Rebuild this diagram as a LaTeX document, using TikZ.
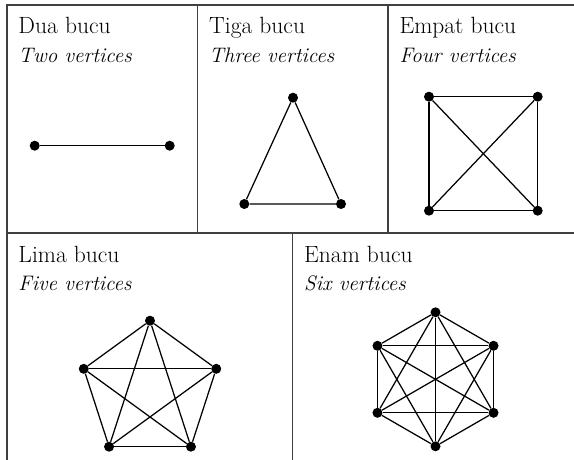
\documentclass[tikz,border=0pt]{standalone}
\usepackage{fontspec}
\begin{document}
\begin{tikzpicture}[x=1pt,y=-1pt,
  frame/.style={draw=black!75,line width=1.2pt},
  edge/.style={draw=black,line width=1.25pt},
  vtx/.style={circle,fill=black,inner sep=0pt,minimum size=10pt},
  ttl/.style={anchor=base west,inner sep=0pt,font=\fontsize{23.5}{28}\selectfont},
  sub/.style={anchor=base west,inner sep=0pt,font=\fontsize{21}{28}\selectfont\itshape}]
\useasboundingbox (0,0) rectangle (574,460);
% frame
\draw[frame] (7,460) -- (7,5) -- (574,5);
\draw[frame] (7,233) -- (574,233);
\draw[frame] (197.3,5) -- (197.3,233);
\draw[frame] (388,5) -- (388,233);
\draw[frame] (292.7,233) -- (292.7,460);
% texts
\node[ttl] (t1) at (18.3,34) {Dua bucu};
\node[sub] (s1) at (18.3,62.5) {Two vertices};
\node[ttl] (t2) at (209,34) {Tiga bucu};
\node[sub] (s2) at (209,62.5) {Three vertices};
\node[ttl] (t3) at (399.3,34) {Empat bucu};
\node[sub] (s3) at (399.3,62.5) {Four vertices};
\node[ttl] (t4) at (18.3,262.3) {Lima bucu};
\node[sub] (s4) at (18.3,290.7) {Five vertices};
\node[ttl] (t5) at (304,262.3) {Enam bucu};
\node[sub] (s5) at (304,290.7) {Six vertices};
% K2
\node[vtx] (a1) at (34.7,145.7) {};
\node[vtx] (a2) at (169.7,145.7) {};
\draw[edge] (a1) -- (a2);
% K3
\node[vtx] (b1) at (293,97.7) {};
\node[vtx] (b2) at (244.3,204) {};
\node[vtx] (b3) at (341,204) {};
\draw[edge] (b1) -- (b2) -- (b3) -- (b1);
% K4
\node[vtx] (c1) at (429,96.7) {};
\node[vtx] (c2) at (537.7,96.7) {};
\node[vtx] (c3) at (537.7,210.7) {};
\node[vtx] (c4) at (429,210.7) {};
\foreach \i/\j in {1/2,1/3,1/4,2/3,2/4,3/4} \draw[edge] (c\i) -- (c\j);
% K5
\foreach \k in {1,...,5}
  \node[vtx] (d\k) at ({150+69.65*cos(90+72*(\k-1))},{390.35-69.65*sin(90+72*(\k-1))}) {};
\foreach \i/\j in {1/2,1/3,1/4,1/5,2/3,2/4,2/5,3/4,3/5,4/5} \draw[edge] (d\i) -- (d\j);
% K6
\foreach \k in {1,...,6}
  \node[vtx] (e\k) at ({435.5+67*cos(90+60*(\k-1))},{379.3-67*sin(90+60*(\k-1))}) {};
\foreach \i/\j in {1/2,1/3,1/4,1/5,1/6,2/3,2/4,2/5,2/6,3/4,3/5,3/6,4/5,4/6,5/6} \draw[edge] (e\i) -- (e\j);
\end{tikzpicture}
\end{document}
